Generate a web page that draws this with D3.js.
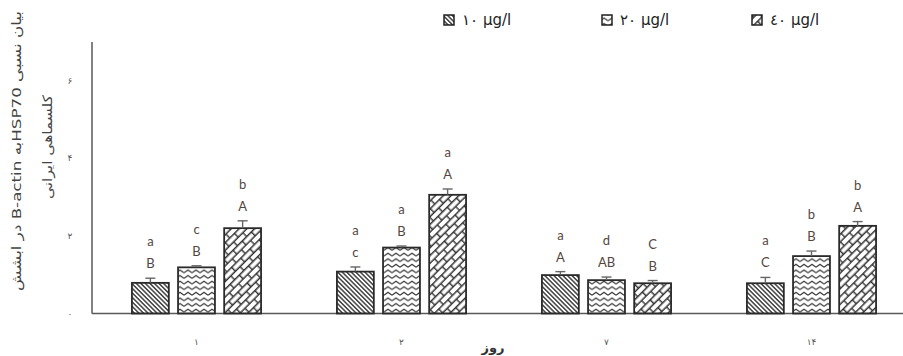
<!DOCTYPE html>
<html>
<head>
<meta charset="utf-8">
<script src="https://cdn.jsdelivr.net/npm/d3@7"></script>
<style>
  body { margin: 0; background: #fff; }
  svg { display: block; }
</style>
</head>
<body>
<div id="chart"></div>
<script>
// data
const days = ['۱', '۲', '۷', '۱۴'];
const seriesNames = ['١٠ µg/l', '٢٠  µg/l', '٤٠ µg/l'];
const conc10 = [0.79, 1.08, 0.99, 0.78];
const conc20 = [1.19, 1.70, 0.86, 1.48];
const conc40 = [2.20, 3.06, 0.78, 2.26];
const err10 = [0.12, 0.12, 0.09, 0.15];
const err20 = [0.04, 0.04, 0.08, 0.13];
const err40 = [0.19, 0.15, 0.07, 0.11];
const lower10 = ['a', 'a', 'a', 'a'];
const lower20 = ['c', 'a', 'd', 'b'];
const lower40 = ['b', 'a', 'C', 'b'];
const upper10 = ['B', 'c', 'A', 'C'];
const upper20 = ['B', 'B', 'AB', 'B'];
const upper40 = ['A', 'A', 'B', 'A'];
const yTicks = [0, 2, 4, 6];
const yTickLabels = ['۰', '۲', '۴', '۶'];
const yTitle1 = 'بیان نسبی HSP70به B-actin در ابشش';
const yTitle2 = 'کلسماهی ایرانی';
const xTitle = 'روز';

const width = 903;
const height = 356;

const svg = d3.select('#chart')
  .append('svg')
  .attr('width', width)
  .attr('height', height);

/* Patterns */
const defs = svg.append('defs');

defs.append('pattern')
  .attr('id', 'pat0')
  .attr('patternUnits', 'userSpaceOnUse')
  .attr('width', 3.2)
  .attr('height', 3.2)
  .attr('patternTransform', 'rotate(45)')
  .append('line')
  .attr('x1', 0).attr('x2', 3.2)
  .attr('y1', 1.6).attr('y2', 1.6)
  .attr('stroke', '#333')
  .attr('stroke-width', 1.4);

defs.append('pattern')
  .attr('id', 'pat1')
  .attr('patternUnits', 'userSpaceOnUse')
  .attr('width', 8)
  .attr('height', 5.6)
  .append('path')
  .attr('d', 'M0,4 L4,1.2 L8,4')
  .attr('fill', 'none')
  .attr('stroke', '#333')
  .attr('stroke-width', 1.3);

const brick = defs.append('pattern')
  .attr('id', 'pat2')
  .attr('patternUnits', 'userSpaceOnUse')
  .attr('width', 13)
  .attr('height', 11)
  .attr('patternTransform', 'rotate(-45)');
brick.append('path')
  .attr('d', 'M0,0.7 H13 M0,6.2 H13 M0.7,0.7 V6.2 M7.2,6.2 V11.7')
  .attr('fill', 'none')
  .attr('stroke', '#333')
  .attr('stroke-width', 1.4);

/* Scales */
const x0 = d3.scaleBand()
  .domain(days)
  .range([94, 914])
  .paddingInner(0.37)
  .paddingOuter(0.185);

const x1 = d3.scaleBand()
  .domain([0, 1, 2])
  .range([0, x0.bandwidth()])
  .paddingInner(0.2);

const y = d3.scaleLinear()
  .domain([0, 7])
  .range([313.5, 42]);

const values = [conc10, conc20, conc40];
const errors = [err10, err20, err40];
const lowers = [lower10, lower20, lower40];
const uppers = [upper10, upper20, upper40];

const rows = [];
days.forEach((d, i) => {
  [0, 1, 2].forEach(s => {
    rows.push({
      day: d,
      s: s,
      value: values[s][i],
      err: errors[s][i],
      lower: lowers[s][i],
      upper: uppers[s][i]
    });
  });
});

/* Axes */
svg.append('line')
  .attr('x1', 92).attr('x2', 92)
  .attr('y1', y(7)).attr('y2', y(0))
  .attr('stroke', '#595959')
  .attr('stroke-width', 1.5);

svg.append('line')
  .attr('x1', 92).attr('x2', width)
  .attr('y1', y(0)).attr('y2', y(0))
  .attr('stroke', '#595959')
  .attr('stroke-width', 1.5);

svg.append('g')
  .selectAll('text')
  .data(yTicks)
  .enter()
  .append('text')
  .attr('x', 70)
  .attr('y', d => y(d) + 3)
  .attr('text-anchor', 'middle')
  .style('font-family', 'DejaVu Sans')
  .style('font-size', '9px')
  .style('fill', '#555')
  .text((d, i) => yTickLabels[i]);

svg.append('g')
  .selectAll('text')
  .data(days)
  .enter()
  .append('text')
  .attr('x', d => x0(d) + x0.bandwidth() / 2)
  .attr('y', 345)
  .attr('text-anchor', 'middle')
  .style('font-family', 'DejaVu Sans')
  .style('font-size', '9px')
  .style('fill', '#555')
  .text(d => d);

svg.append('text')
  .attr('x', 493)
  .attr('y', 352)
  .attr('text-anchor', 'middle')
  .style('font-family', 'DejaVu Sans')
  .style('font-size', '13px')
  .style('font-weight', 'bold')
  .style('fill', '#333')
  .text(xTitle);

/* Y title */
svg.append('text')
  .attr('transform', 'translate(21, 151) rotate(-90)')
  .attr('text-anchor', 'middle')
  .attr('direction', 'rtl')
  .attr('textLength', 280)
  .attr('lengthAdjust', 'spacingAndGlyphs')
  .style('font-family', 'DejaVu Sans')
  .style('font-size', '13px')
  .style('fill', '#444')
  .text(yTitle1);

svg.append('text')
  .attr('transform', 'translate(52, 147) rotate(-90)')
  .attr('text-anchor', 'middle')
  .attr('direction', 'rtl')
  .attr('textLength', 104)
  .attr('lengthAdjust', 'spacingAndGlyphs')
  .style('font-family', 'DejaVu Sans')
  .style('font-size', '13px')
  .style('fill', '#444')
  .text(yTitle2);

/* Bars */
const bars = svg.append('g').attr('class', 'bars');

bars.selectAll('rect')
  .data(rows)
  .enter()
  .append('rect')
  .attr('x', d => x0(d.day) + x1(d.s))
  .attr('y', d => y(d.value))
  .attr('width', x1.bandwidth())
  .attr('height', d => y(0) - y(d.value))
  .attr('fill', d => `url(#pat${d.s})`)
  .attr('stroke', '#2a2a2a')
  .attr('stroke-width', 1.8);

/* Error bars */
const errs = svg.append('g').attr('class', 'errors');
rows.forEach(d => {
  const cx = x0(d.day) + x1(d.s) + x1.bandwidth() / 2;
  errs.append('line')
    .attr('x1', cx).attr('x2', cx)
    .attr('y1', y(d.value)).attr('y2', y(d.value + d.err))
    .attr('stroke', '#666')
    .attr('stroke-width', 1.4);
  errs.append('line')
    .attr('x1', cx - 5).attr('x2', cx + 5)
    .attr('y1', y(d.value + d.err)).attr('y2', y(d.value + d.err))
    .attr('stroke', '#666')
    .attr('stroke-width', 1.4);
});

/* Letters */
const letters = svg.append('g').attr('class', 'letters')
  .style('font-family', 'Lato')
  .style('font-size', '13px')
  .style('fill', '#54463f');

letters.selectAll('.upper')
  .data(rows)
  .enter()
  .append('text')
  .attr('class', 'upper')
  .attr('x', d => x0(d.day) + x1(d.s) + x1.bandwidth() / 2)
  .attr('y', d => y(d.value + d.err) - 10)
  .attr('text-anchor', 'middle')
  .text(d => d.upper);

letters.selectAll('.lower')
  .data(rows)
  .enter()
  .append('text')
  .attr('class', 'lower')
  .attr('x', d => x0(d.day) + x1(d.s) + x1.bandwidth() / 2)
  .attr('y', d => y(d.value + d.err) - 32)
  .attr('text-anchor', 'middle')
  .text(d => d.lower);

/* Legend */
const legendX = [444, 602, 752];
const legend = svg.append('g').attr('class', 'legend');
seriesNames.forEach((name, i) => {
  legend.append('rect')
    .attr('x', legendX[i])
    .attr('y', 15)
    .attr('width', 10)
    .attr('height', 10)
    .attr('fill', `url(#pat${i})`)
    .attr('stroke', '#222')
    .attr('stroke-width', 1.5);
  legend.append('text')
    .attr('x', legendX[i] + 18)
    .attr('y', 25)
    .style('font-family', 'DejaVu Sans')
    .style('font-size', '15px')
    .style('fill', '#222')
    .text(name);
});
</script>
</body>
</html>
